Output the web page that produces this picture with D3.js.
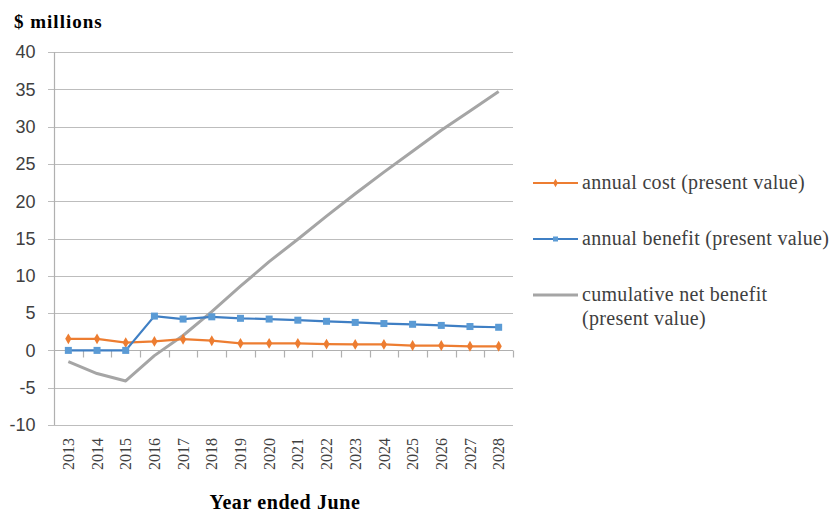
<!DOCTYPE html>
<html><head><meta charset="utf-8">
<script src="https://cdn.jsdelivr.net/npm/d3@7"></script>
<style>body{margin:0;background:#fff}svg{display:block}</style>
</head><body>
<script>
const years = ["2013","2014","2015","2016","2017","2018","2019","2020","2021","2022","2023","2024","2025","2026","2027","2028"];
const annualCost = [1.55,1.55,1.05,1.2,1.5,1.3,0.95,0.95,0.95,0.85,0.8,0.8,0.65,0.65,0.55,0.55];
const annualBenefit = [0,0,0,4.6,4.2,4.5,4.3,4.2,4.05,3.9,3.75,3.6,3.5,3.35,3.2,3.1];
const cumulativeNet = [-1.5,-3.1,-4.1,-0.7,2.0,5.2,8.6,11.9,14.9,18.0,21.0,23.9,26.7,29.5,32.1,34.7];
const yTicks = [-10,-5,0,5,10,15,20,25,30,35,40];
const seriesNames = ["annual cost (present value)","annual benefit (present value)","cumulative net benefit"];

const W=832,H=516;
const svg=d3.select("body").append("svg").attr("width",W).attr("height",H);
const x=d3.scaleBand().domain(years).range([54,513]);
const y=d3.scaleLinear().domain([-10,40]).range([425,52]);
const serif="'Liberation Serif','Times New Roman',serif";
const sans="'Liberation Sans',Arial,sans-serif";

// gridlines
svg.append("g").selectAll("line").data(yTicks).join("line")
 .attr("x1",48).attr("x2",513).attr("y1",d=>Math.round(y(d))+0.5).attr("y2",d=>Math.round(y(d))+0.5)
 .attr("stroke","#bdbdbd").attr("stroke-width",1.2);
// y axis line
svg.append("line").attr("x1",54.5).attr("x2",54.5).attr("y1",y(40)).attr("y2",y(-10)).attr("stroke","#b0b0b0").attr("stroke-width",1.2);
// y labels
svg.append("g").selectAll("text").data(yTicks).join("text")
 .attr("x",35.5).attr("y",d=>y(d)).attr("dy","0.35em").attr("text-anchor","end")
 .attr("font-family",sans).attr("font-size",18).attr("fill","#404040").text(d=>d);
// x axis at zero with ticks
const x0=Math.round(y(0))+0.5;
svg.append("line").attr("x1",54).attr("x2",513).attr("y1",x0).attr("y2",x0).attr("stroke","#b0b0b0").attr("stroke-width",1.2);
const bounds=years.map(d=>x(d)).concat([x.range()[1]]);
svg.append("g").selectAll("line").data(bounds.slice(1)).join("line")
 .attr("x1",d=>Math.round(d)+0.5).attr("x2",d=>Math.round(d)+0.5).attr("y1",x0).attr("y2",x0+7)
 .attr("stroke","#b0b0b0").attr("stroke-width",1.2);
// x labels
svg.append("g").selectAll("text").data(years).join("text")
 .attr("transform",d=>`translate(${x(d)+x.bandwidth()/2},438) rotate(-90)`)
 .attr("dy","0.35em").attr("text-anchor","end")
 .attr("font-family",serif).attr("font-size",16).attr("fill","#404040").text(d=>d);

const cx=d=>x(d)+x.bandwidth()/2;
const line=d3.line().x((d,i)=>cx(years[i])).y(d=>y(d));
// cumulative
svg.append("path").datum(cumulativeNet).attr("d",line).attr("fill","none").attr("stroke","#a5a5a5").attr("stroke-width",3).attr("stroke-linejoin","round");
// cost
svg.append("path").datum(annualCost).attr("d",line).attr("fill","none").attr("stroke","#ed7d31").attr("stroke-width",2.2);
svg.append("g").selectAll("path").data(annualCost).join("path")
 .attr("transform",(d,i)=>`translate(${cx(years[i])},${y(d)})`)
 .attr("d",d3.symbol(d3.symbolDiamond,34)).attr("fill","#ed7d31");
// benefit
svg.append("path").datum(annualBenefit).attr("d",line).attr("fill","none").attr("stroke","#3f7fc4").attr("stroke-width",2.2);
svg.append("g").selectAll("rect").data(annualBenefit).join("rect")
 .attr("x",(d,i)=>cx(years[i])-3.5).attr("y",d=>y(d)-3.5).attr("width",7).attr("height",7).attr("fill","#5b9bd5");

// legend
const lg=svg.append("g");
const rows=[{y:183,c:"#ed7d31",m:"d"},{y:239,c:"#3f7fc4",m:"s"},{y:295,c:"#a5a5a5",m:null}];
function legText(t,yy){
 lg.append("text").attr("x",582).attr("y",yy).attr("dy","0.32em").attr("font-family",serif).attr("font-size",20)
  .attr("letter-spacing","0.3px").attr("fill","#404040").text(t);
}
rows.forEach((r,i)=>{
 lg.append("line").attr("x1",533).attr("x2",578).attr("y1",r.y).attr("y2",r.y).attr("stroke",r.c).attr("stroke-width",i==2?3:2.2);
 if(r.m=="d") lg.append("path").attr("transform",`translate(555.5,${r.y})`).attr("d",d3.symbol(d3.symbolDiamond,20)).attr("fill",r.c);
 if(r.m=="s") lg.append("rect").attr("x",553).attr("y",r.y-2.5).attr("width",5).attr("height",5).attr("fill","#5b9bd5");
 legText(seriesNames[i],r.y);
});
legText("(present value)",319);

// titles
svg.append("text").attr("x",14).attr("y",28).attr("font-family",serif).attr("font-weight","bold").attr("font-size",19)
 .attr("letter-spacing","1px").attr("fill","#000").text("$ millions");
svg.append("text").attr("x",285).attr("y",509).attr("text-anchor","middle").attr("font-family",serif).attr("font-weight","bold").attr("font-size",20)
 .attr("letter-spacing","0.6px").attr("fill","#000").text("Year ended June");
</script>
</body></html>
